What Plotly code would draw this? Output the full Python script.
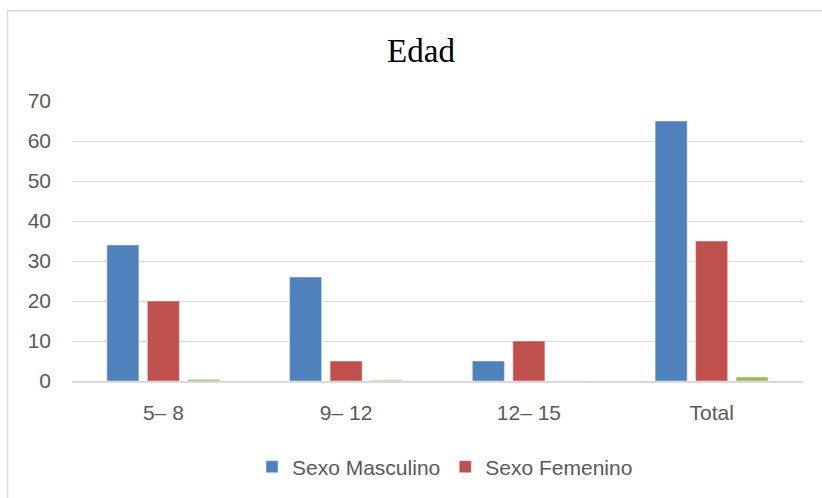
import plotly.graph_objects as go

# Age groups and counts by sex
categories = ["5– 8", "9– 12", "12– 15", "Total"]
masculino = [34, 26, 5, 65]
femenino = [20, 5, 10, 35]
otros = [0.4, 0.2, 0, 1]

fig = go.Figure()
fig.add_trace(go.Bar(x=categories, y=masculino, name="Sexo Masculino",
                     marker=dict(color="#4F81BD")))
fig.add_trace(go.Bar(x=categories, y=femenino, name="Sexo Femenino",
                     marker=dict(color="#C0504D")))
fig.add_trace(go.Bar(x=categories, y=otros, name="", showlegend=False,
                     marker=dict(color="#9BBB59")))

L, R, T, B = 72, 19, 101, 116
W, H = 822, 498
pw, ph = W - L - R, H - T - B

def px_x(v):
    return (v - L) / pw

def px_y(v):
    return (H - B - v) / ph

fig.update_layout(
    width=W, height=H,
    margin=dict(l=L, r=R, t=T, b=B),
    paper_bgcolor="white", plot_bgcolor="white",
    barmode="group", bargap=0.335, bargroupgap=0.21,
    title=dict(text="Edad", x=421 / W, xanchor="center", y=1 - 50 / H, yanchor="middle",
               font=dict(family="Liberation Serif", size=33, color="#000000")),
    font=dict(family="Liberation Sans", size=21, color="#595959"),
    legend=dict(orientation="h", x=px_x(445), xanchor="center", y=px_y(467), yanchor="middle",
                font=dict(size=21, color="#595959"), itemwidth=30, traceorder="normal"),
    xaxis=dict(showgrid=False, showline=True, linecolor="#d9d9d9", linewidth=1.5,
               ticks="", ticklabelstandoff=12, tickfont=dict(size=21, color="#595959")),
    yaxis=dict(range=[0, 70], dtick=10, showgrid=True, gridcolor="#d9d9d9", gridwidth=1,
               zeroline=False, showline=False, ticks="", ticklabelstandoff=20,
               tickfont=dict(size=21, color="#595959")),
    shapes=[dict(type="rect", xref="paper", yref="paper",
                 x0=px_x(7.5), x1=px_x(840), y0=px_y(520), y1=px_y(10.5),
                 line=dict(color="#d9d9d9", width=1.5), layer="below")],
)

fig.write_html("out.html")
